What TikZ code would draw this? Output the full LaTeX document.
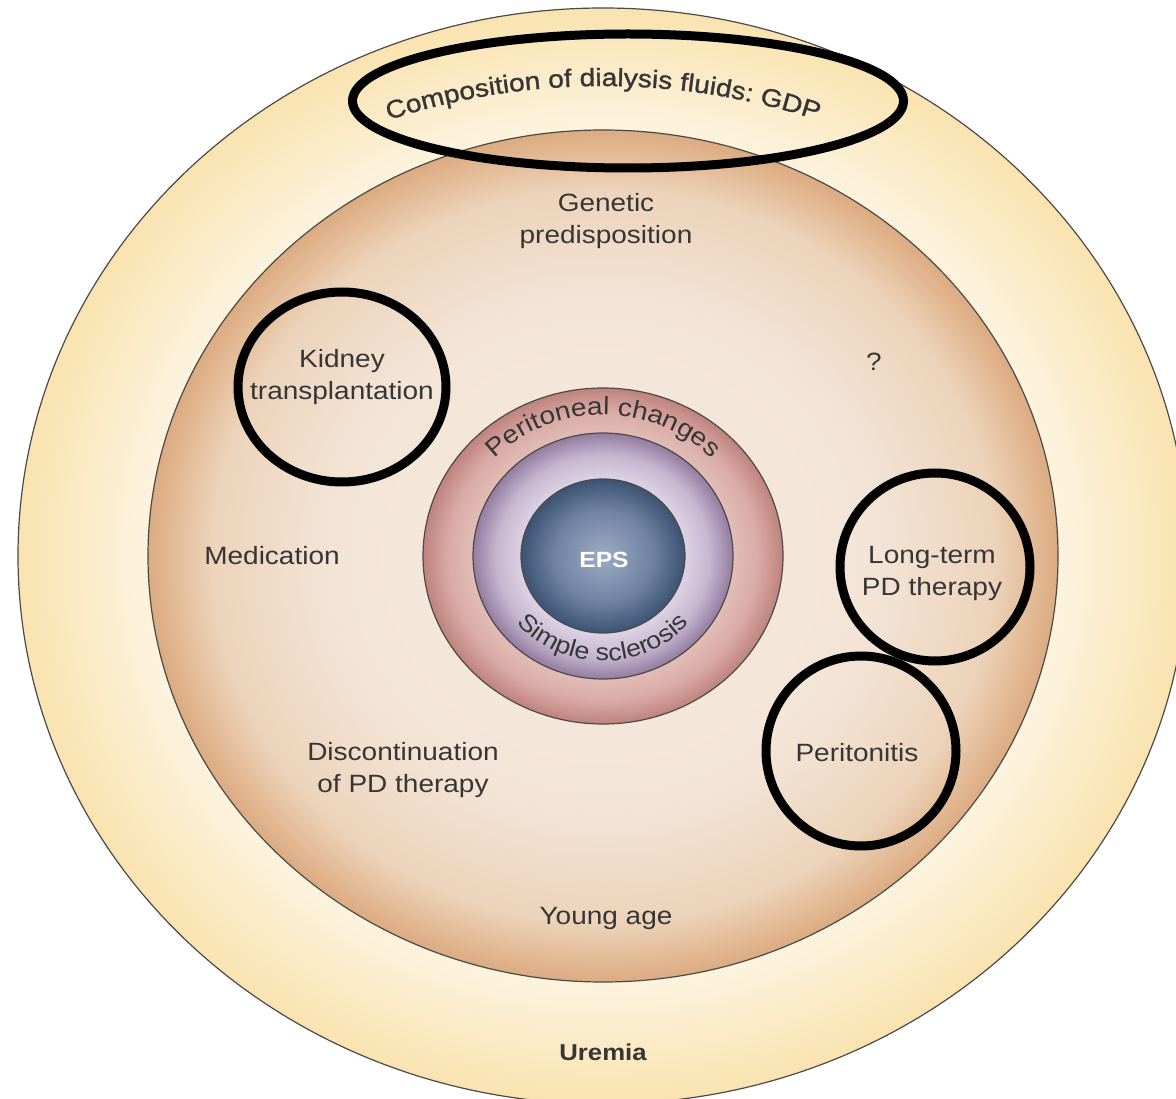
\documentclass[tikz,border=0pt]{standalone}
\usepackage{fontspec}
\setmainfont{Liberation Sans}[FakeStretch=1.12]
\newfontfamily\arcfont{Liberation Sans}[FakeStretch=1.12, FakeBold=1.2]
\usetikzlibrary{decorations.text, shapes.geometric}

\definecolor{txt}{HTML}{363636}
\definecolor{edge}{HTML}{4A4A4A}
\definecolor{oA}{HTML}{FDF6E6}
\definecolor{oB}{HTML}{FCF3DE}
\definecolor{oC}{HTML}{FAE3B0}
\definecolor{bA}{HTML}{F6ECE2}
\definecolor{bB}{HTML}{F3E4D6}
\definecolor{bC}{HTML}{EDD3BA}
\definecolor{bD}{HTML}{DCAB80}
\definecolor{rA}{HTML}{EBCBC6}
\definecolor{rB}{HTML}{E3BDB7}
\definecolor{rM}{HTML}{D9ABA5}
\definecolor{rC}{HTML}{BF827E}
\definecolor{pA}{HTML}{E2D8E8}
\definecolor{pB}{HTML}{DDD2E4}
\definecolor{pM}{HTML}{C6B6CF}
\definecolor{pC}{HTML}{937CA0}
\definecolor{eA}{HTML}{9DACC5}
\definecolor{eM}{HTML}{6F82A0}
\definecolor{eB}{HTML}{3C5374}

\pgfdeclareradialshading{outershade}{\pgfpoint{0bp}{0bp}}{color(0bp)=(oA); color(19.5bp)=(oB); color(25bp)=(oC); color(50bp)=(oC)}
\pgfdeclareradialshading{brownshade}{\pgfpoint{0bp}{0bp}}{color(0bp)=(bA); color(15bp)=(bB); color(21.5bp)=(bC); color(25bp)=(bD); color(50bp)=(bD)}
\pgfdeclareradialshading{redshade}{\pgfpoint{0bp}{0bp}}{color(0bp)=(rA); color(18bp)=(rB); color(21.5bp)=(rM); color(25bp)=(rC); color(50bp)=(rC)}
\pgfdeclareradialshading{purpleshade}{\pgfpoint{0bp}{0bp}}{color(0bp)=(pA); color(15.8bp)=(pB); color(20.5bp)=(pM); color(25bp)=(pC); color(50bp)=(pC)}
\pgfdeclareradialshading{epsshade}{\pgfpoint{0bp}{0bp}}{color(0bp)=(eA); color(15bp)=(eM); color(25bp)=(eB); color(50bp)=(eB)}

\tikzset{
  ringline/.style={draw=edge, line width=1.2},
  lbl/.style={font=\fontsize{25}{32}\selectfont, text=txt, align=center, inner sep=0pt},
  hl/.style={draw=black, line width=9, ellipse, inner sep=0pt, fill=none},
}

\begin{document}
\begin{tikzpicture}[x=1pt, y=-1pt]
\useasboundingbox (0,0) rectangle (1176,1099);
\fill[white] (0,0) rectangle (1176,1099);
\clip (0,0) rectangle (1176,1099);

\coordinate (c) at (603,556);
\coordinate (tc) at (603,716);

% rings
\path[ringline, shading=outershade] (c) ellipse[x radius=585, y radius=548];
\path[ringline, shading=brownshade] (c) ellipse[x radius=455, y radius=426];
\path[ringline, shading=redshade] (c) ellipse[x radius=180, y radius=168];
\path[ringline, shading=purpleshade] (c) ellipse[x radius=130, y radius=123];
\path[ringline, shading=epsshade] (c) ellipse[x radius=82, y radius=77];

% curved texts
\path[decorate, decoration={text along path, text align=center,
  text={|\arcfont\fontsize{25}{30}\selectfont\color{txt}|Composition of dialysis fluids: GDP}}]
  ([shift={(228:660 and 630)}]tc) arc[start angle=228, end angle=312, x radius=660, y radius=630];

\path[decorate, decoration={text along path, text align=center,
  text={|\fontsize{25}{30}\selectfont\color{txt}|Peritoneal changes}}]
  ([shift={(210:150 and 141)}]c) arc[start angle=210, end angle=330, x radius=150, y radius=141];

\path[decorate, decoration={text along path, text align=center,
  text={|\fontsize{24}{30}\selectfont\color{txt}|Simple sclerosis}}]
  ([shift={(160:112 and 105)}]c) arc[start angle=160, end angle=20, x radius=112, y radius=105];

% labels
\node[lbl, text=white, font=\fontsize{22}{26}\selectfont\bfseries] (eps) at (604,560) {EPS};
\node[lbl] (genetic) at (606,221) {Genetic\\predisposition};
\node[lbl] (question) at (874,362) {?};
\node[lbl] (kidney) at (342,377) {Kidney\\transplantation};
\node[lbl] (medication) at (272,556) {Medication};
\node[lbl] (longterm) at (932,573) {Long-term\\PD therapy};
\node[lbl] (peritonitis) at (857,753) {Peritonitis};
\node[lbl] (discont) at (403,770) {Discontinuation\\of PD therapy};
\node[lbl] (young) at (606,918) {Young age};
\node[lbl, font=\fontsize{23}{28}\selectfont\bfseries] (uremia) at (603,1052) {Uremia};

% highlight ellipses
\node[hl, minimum width=551, minimum height=134] (gdphl) at (628,101) {};
\node[hl, minimum width=208, minimum height=190] (kidneyhl) at (342,387) {};
\node[hl, minimum width=190, minimum height=188] (longtermhl) at (935,567) {};
\node[hl, minimum width=190, minimum height=190] (peritonitishl) at (861,751) {};
\end{tikzpicture}
\end{document}
